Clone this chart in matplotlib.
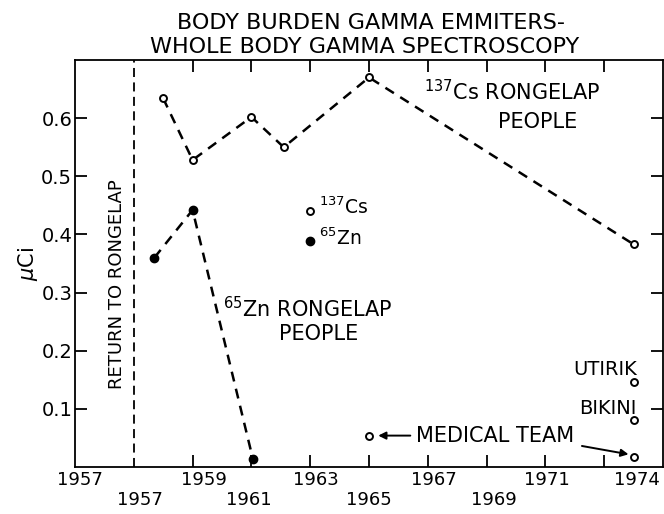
import matplotlib
matplotlib.use("Agg")
import matplotlib.pyplot as plt

# 137Cs body burden, Rongelap people
cs_years = [1958.0, 1959.0, 1961.0, 1962.1, 1965.0, 1974.0]
cs_vals = [0.634, 0.528, 0.602, 0.550, 0.670, 0.383]

# 65Zn body burden, Rongelap people
zn_years = [1957.7, 1959.0, 1961.05]
zn_vals = [0.360, 0.442, 0.014]

# other groups (137Cs)
utirik = (1974.0, 0.146)
bikini = (1974.0, 0.081)
med_years = [1965.0, 1974.0]
med_vals = [0.054, 0.017]

# key symbols
key_year = 1963.0
key_cs = 0.441
key_zn = 0.389

return_year = 1957.0

yticks = [0.1, 0.2, 0.3, 0.4, 0.5, 0.6]
ytick_labels = ["0.1", "0.2", "0.3", "0.4", "0.5", "0.6"]
xticks = [1959, 1961, 1963, 1965, 1967, 1969, 1971, 1973]
# the year labels sit in two staggered rows
row1_pos = [1955.17, 1959.4, 1963.2, 1967.2, 1971.05, 1974.1]
row1_lab = ["1957", "1959", "1963", "1967", "1971", "1974"]
row2_pos = [1957.2, 1960.9, 1965.0, 1969.25]
row2_lab = ["1957", "1961", "1965", "1969"]

plt.rcParams['font.family'] = ['DejaVu Sans']

fig = plt.figure(figsize=(6.64, 5.14), dpi=100)
ax = fig.add_axes([75/664, 47/514, 588/664, 407/514])

ax.plot(cs_years, cs_vals, linestyle=(0, (4, 3)), color='black', lw=1.8,
        marker='o', ms=5, mfc='white', mec='black', mew=1.4)
ax.plot(zn_years, zn_vals, linestyle=(0, (4, 3)), color='black', lw=1.8,
        marker='o', ms=6, mfc='black', mec='black')

ax.plot(*utirik, 'o', ms=5, mfc='white', mec='black', mew=1.4)
ax.plot(*bikini, 'o', ms=5, mfc='white', mec='black', mew=1.4)
ax.plot(med_years, med_vals, 'o', ms=5, mfc='white', mec='black', mew=1.4,
        linestyle='none')

ax.plot(key_year, key_cs, 'o', ms=5, mfc='white', mec='black', mew=1.4)
ax.plot(key_year, key_zn, 'o', ms=6, mfc='black', mec='black')

ax.axvline(return_year, color='black', lw=1.3, linestyle=(0, (5, 3)))

ax.text(1956.43, 0.315, "RETURN TO RONGELAP", rotation=90, ha='center', va='center', fontsize=13)
ax.text(1966.87, 0.645, r"$^{137}\mathregular{Cs}$ RONGELAP", ha='left', va='center', fontsize=15)
ax.text(1970.75, 0.593, "PEOPLE", ha='center', va='center', fontsize=15)
ax.text(1960.05, 0.272, r"$^{65}\mathregular{Zn}$ RONGELAP", ha='left', va='center', fontsize=15)
ax.text(1963.3, 0.228, "PEOPLE", ha='center', va='center', fontsize=15)
ax.text(1963.3, 0.447, r"$^{137}\mathregular{Cs}$", ha='left', va='center', fontsize=13.5)
ax.text(1963.3, 0.394, r"$^{65}\mathregular{Zn}$", ha='left', va='center', fontsize=13.5)
ax.text(1974.1, 0.167, "UTIRIK", ha='right', va='center', fontsize=14)
ax.text(1974.1, 0.101, "BIKINI", ha='right', va='center', fontsize=14)
ax.text(1966.6, 0.054, "MEDICAL TEAM", ha='left', va='center', fontsize=15)

ax.annotate("", xy=(med_years[0] + 0.22, med_vals[0]), xytext=(1966.5, med_vals[0]),
            arrowprops=dict(arrowstyle='-|>', color='black', lw=1.4, mutation_scale=11))
ax.annotate("", xy=(med_years[1] - 0.08, med_vals[1] + 0.004), xytext=(1972.15, 0.037),
            arrowprops=dict(arrowstyle='-|>', color='black', lw=1.4, mutation_scale=11))

ax.set_xlim(1955, 1975)
ax.set_ylim(0, 0.7)
ax.set_yticks(yticks, ytick_labels)
ax.set_xticks(xticks, [""] * len(xticks))
ax.tick_params(axis='both', direction='in', length=8.5, width=1.3,
               top=True, right=True, labelsize=14, pad=2)
for s in ax.spines.values():
    s.set_linewidth(1.3)

for p, l in zip(row1_pos, row1_lab):
    ax.text(p, -0.032, l, transform=ax.get_xaxis_transform(),
            ha='center', va='center', fontsize=13)
for p, l in zip(row2_pos, row2_lab):
    ax.text(p, -0.082, l, transform=ax.get_xaxis_transform(),
            ha='center', va='center', fontsize=13)

ax.set_ylabel(r"$\mu$Ci", fontsize=15, labelpad=1)

fig.text(371/664, 1 - 23/514, "BODY BURDEN GAMMA EMMITERS-", ha='center', va='center', fontsize=16)
fig.text(365/664, 1 - 47/514, "WHOLE BODY GAMMA SPECTROSCOPY", ha='center', va='center', fontsize=16)

fig.savefig("out.png", dpi=100)
